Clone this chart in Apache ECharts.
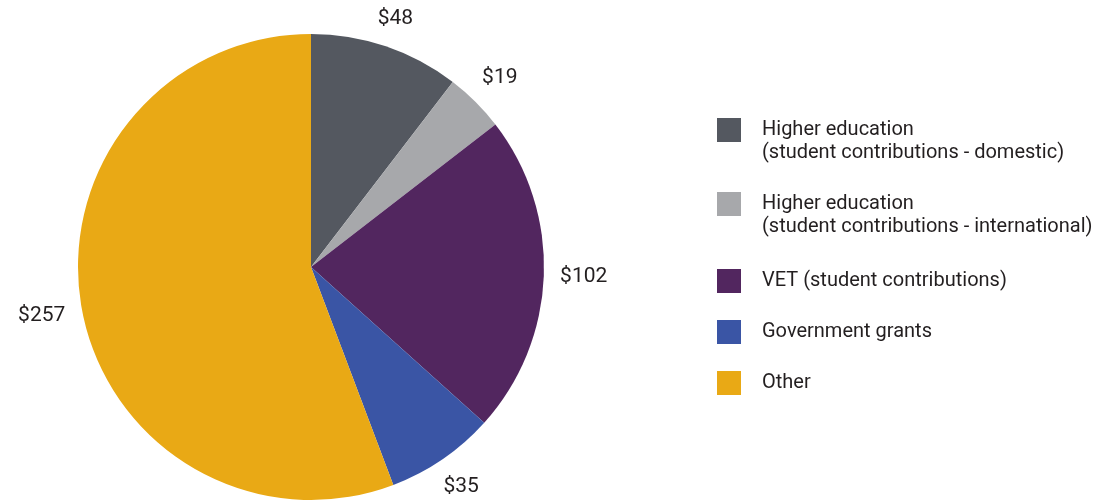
<!DOCTYPE html>
<html>
<head>
<meta charset="utf-8">
<script src="https://cdn.jsdelivr.net/npm/echarts@6/dist/echarts.min.js"></script>
<style>
  html, body { margin: 0; padding: 0; background: #ffffff; }
  #chart { width: 1104px; height: 501px; }
</style>
</head>
<body>
<div id="chart"></div>
<script>
// Funding sources ($ millions)
const categories = [
  'Higher education\n(student contributions - domestic)',
  'Higher education\n(student contributions - international)',
  'VET (student contributions)',
  'Government grants',
  'Other'
];
const values = [48, 19, 102, 35, 257];
const colors = ['#545860', '#a7a8ab', '#52265f', '#3a55a5', '#e9a915'];

const FONT = 'Roboto, "Liberation Sans", sans-serif';
const TEXT_COLOR = '#231f20';
const LINE_H = 23;
const SWATCH = 24;
const PIE_CENTER = [311, 267];
const PIE_RADIUS = 233;
const LABEL_GAP = 16;

// Swatch centres of the legend rows
const legendRows = [130, 204, 281, 332, 383];

// One legend block per entry so each swatch sits beside the first text line.
// Two-line names get an empty leading line, which keeps the first real line
// on the swatch's centre when the block is vertically centred.
const legends = categories.map((name, i) => {
  const twoLines = name.indexOf('\n') >= 0;
  return {
    data: [name],
    formatter: n => (n.indexOf('\n') >= 0 ? ' \n' + n : n),
    left: 717,
    top: twoLines ? legendRows[i] - 1.5 * LINE_H : legendRows[i] - SWATCH / 2,
    padding: 0,
    orient: 'vertical',
    icon: 'rect',
    itemWidth: SWATCH,
    itemHeight: SWATCH,
    itemGap: 0,
    selectedMode: false,
    itemStyle: { borderWidth: 0 },
    textStyle: {
      fontFamily: FONT,
      fontSize: 20,
      lineHeight: LINE_H,
      color: TEXT_COLOR,
      padding: [0, 0, 0, 16]
    }
  };
});

// Mid-angle (radians, clockwise from 12 o'clock) of each slice
const total = values.reduce((a, b) => a + b, 0);
const midAngles = [];
values.reduce((acc, v) => {
  midAngles.push((acc + v / 2) / total * 2 * Math.PI);
  return acc + v;
}, 0);

const chart = echarts.init(document.getElementById('chart'), null, { renderer: 'canvas' });
chart.setOption({
  animation: false,
  color: colors,
  legend: legends,
  series: [{
    type: 'pie',
    center: PIE_CENTER,
    radius: PIE_RADIUS,
    startAngle: 90,
    clockwise: true,
    avoidLabelOverlap: false,
    data: categories.map((name, i) => ({ name: name, value: values[i] })),
    itemStyle: { borderWidth: 0 },
    label: {
      show: true,
      position: 'outside',
      formatter: p => '$' + p.value,
      fontFamily: FONT,
      fontSize: 21,
      color: TEXT_COLOR
    },
    labelLine: { show: false },
    // Put each value just outside the rim along its slice's mid-angle,
    // with the label box clearing the edge by a fixed gap.
    labelLayout: params => {
      const a = midAngles[params.dataIndex];
      const ux = Math.sin(a), uy = -Math.cos(a);
      const w = params.labelRect.width, h = params.labelRect.height;
      const reach = PIE_RADIUS + LABEL_GAP + Math.abs(ux) * w / 2 + Math.abs(uy) * h * 0.4;
      return {
        x: PIE_CENTER[0] + ux * reach,
        y: PIE_CENTER[1] + uy * reach,
        align: 'center',
        verticalAlign: 'middle'
      };
    },
    emphasis: { disabled: true }
  }]
});
</script>
</body>
</html>
